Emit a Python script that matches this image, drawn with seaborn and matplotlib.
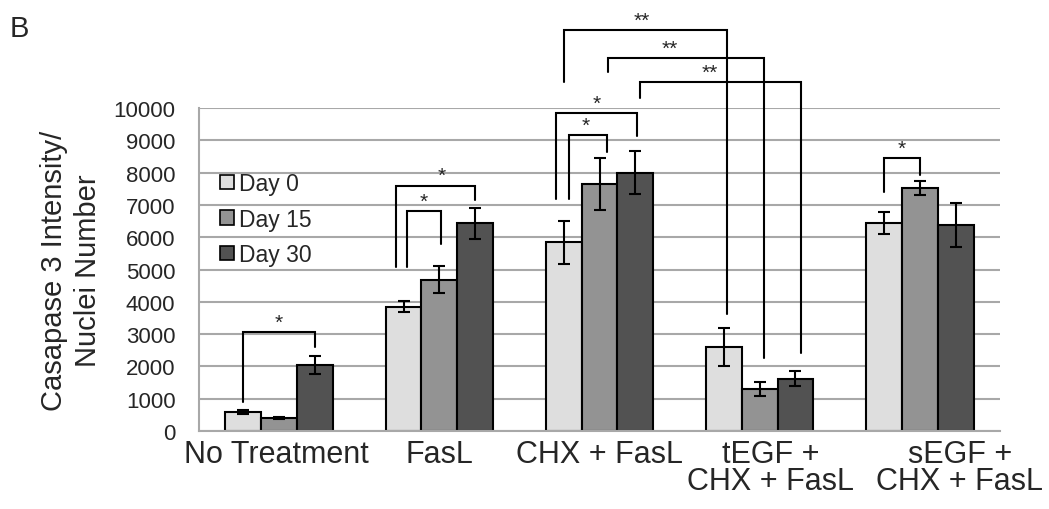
import pandas as pd
import seaborn as sns
import matplotlib.pyplot as plt
from matplotlib.patches import Patch

# --------------------------------------------------------------
# Data
# --------------------------------------------------------------
treatments = ["No Treatment", "FasL", "CHX + FasL",
              "tEGF + CHX + FasL", "sEGF + CHX + FasL"]
tick_labels = ["No Treatment", "FasL", "CHX + FasL",
               "tEGF +\nCHX + FasL", "sEGF +\nCHX + FasL"]
days = ["Day 0", "Day 15", "Day 30"]

day0 = [590, 3850, 5840, 2600, 6450]
day15 = [410, 4690, 7640, 1310, 7520]
day30 = [2050, 6430, 8000, 1620, 6380]

day0_err = [50, 160, 660, 580, 340]
day15_err = [30, 420, 800, 220, 220]
day30_err = [280, 480, 670, 240, 690]

# significance brackets:
# (left cat, left day, right cat, right day, y left, y top, y right, stars)
brackets = [
    (0, 0, 0, 2, 900, 3070, 2600, "*"),
    (1, 0, 1, 2, 5070, 7600, 7160, "*"),
    (1, 0, 1, 1, 5070, 6800, 5790, "*"),
    (2, 0, 2, 2, 7180, 9840, 9140, "*"),
    (2, 0, 2, 1, 7180, 9170, 8630, "*"),
    (2, 0, 3, 0, 10800, 12420, 3620, "**"),
    (2, 1, 3, 1, 11120, 11550, 2250, "**"),
    (2, 2, 3, 2, 10310, 10800, 2420, "**"),
    (4, 0, 4, 1, 7410, 8460, 7930, "*"),
]
# small horizontal nudges of bracket legs and stars (fraction of a category)
bracket_dx = [
    (0.0, 0.0), (-0.045, 0.0), (0.02, 0.012), (-0.048, 0.008), (0.03, 0.048),
    (0.0, 0.02), (0.054, 0.027), (0.027, 0.033), (0.0, 0.0),
]
star_dx = [0.0, 0.04, 0.0, 0.0, -0.015, -0.02, -0.1, -0.065, 0.0]

colors = {"Day 0": "#dedede", "Day 15": "#939393", "Day 30": "#525252"}

# --------------------------------------------------------------
# Build long-form table
# --------------------------------------------------------------
rows = []
for vals, errs, day in zip([day0, day15, day30], [day0_err, day15_err, day30_err], days):
    for t, v, e in zip(treatments, vals, errs):
        rows.append({"Treatment": t, "Day": day, "Value": v, "Err": e})
df = pd.DataFrame(rows)

sns.set_style("white")
plt.rcParams["font.family"] = ["Liberation Sans", "DejaVu Sans"]

fig = plt.figure(figsize=(10.49, 5.10), dpi=100)
ax = fig.add_axes([0.1897, 0.1529, 0.7636, 0.6334])

width = 0.67
sns.barplot(data=df, x="Treatment", y="Value", hue="Day", order=treatments,
            hue_order=days, palette=colors, width=width, errorbar=None,
            edgecolor="black", linewidth=1.5, legend=False, ax=ax)

bar_w = width / len(days)


def bar_x(cat, day_idx):
    return cat + (day_idx - 1) * bar_w


# error bars
for j, day in enumerate(days):
    sub = df[df["Day"] == day]
    xs = [bar_x(i, j) for i in range(len(treatments))]
    ax.errorbar(xs, sub["Value"], yerr=sub["Err"], fmt="none", ecolor="black",
                elinewidth=1.5, capsize=4.2, capthick=1.5, zorder=5)

# significance brackets
for (cl, dl, cr, dr, yl, yt, yr, stars), (dxl, dxr), sdx in zip(brackets, bracket_dx, star_dx):
    xl = bar_x(cl, dl) + dxl
    xr = bar_x(cr, dr) + dxr
    ax.plot([xl, xl, xr, xr], [yl, yt, yt, yr], color="black", lw=1.5,
            clip_on=False, zorder=6, solid_joinstyle="miter")
    ax.text((xl + xr) / 2 + sdx, yt + 300, stars, ha="center", va="center",
            fontsize=15, clip_on=False)

# axes styling
ax.set_xlim(-0.5, len(treatments) - 0.5)
ax.set_ylim(0, 10000)
ax.set_yticks(range(0, 10001, 1000))
ax.yaxis.grid(True, color="#a8a8a8", linewidth=1.5)
ax.set_axisbelow(True)
for side in ["top", "right"]:
    ax.spines[side].set_visible(False)
for side in ["left", "bottom"]:
    ax.spines[side].set_color("#a8a8a8")
    ax.spines[side].set_linewidth(1.5)
ax.tick_params(axis="y", length=5, width=1.5, color="#a8a8a8",
               labelsize=16, pad=12)
ax.tick_params(axis="x", length=0)
ax.set_xticks(range(len(treatments)))
ax.set_xticklabels([])
ax.set_xlabel("")
ax.set_ylabel("Casapase 3 Intensity/\nNuclei Number", fontsize=21,
              linespacing=1.3, labelpad=8)

label_dx = [-0.02, 0.0, 0.0, 0.07, 0.25]
for i, (lab, dx) in enumerate(zip(tick_labels, label_dx)):
    ax.text(i + dx, -0.025, lab, transform=ax.get_xaxis_transform(),
            ha="center", va="top", fontsize=22, linespacing=0.85)

handles = [Patch(facecolor=colors[d], edgecolor="black", linewidth=1.2) for d in days]
ax.legend(handles, days, loc="upper left", bbox_to_anchor=(0.015, 0.83),
          frameon=False, fontsize=16.5, handlelength=0.6, handleheight=0.6,
          handletextpad=0.2, labelspacing=0.55, borderaxespad=0)

fig.text(10 / 1049, 1 - 15 / 510, "B", ha="left", va="top", fontsize=21)

fig.savefig("out.png", dpi=100)
